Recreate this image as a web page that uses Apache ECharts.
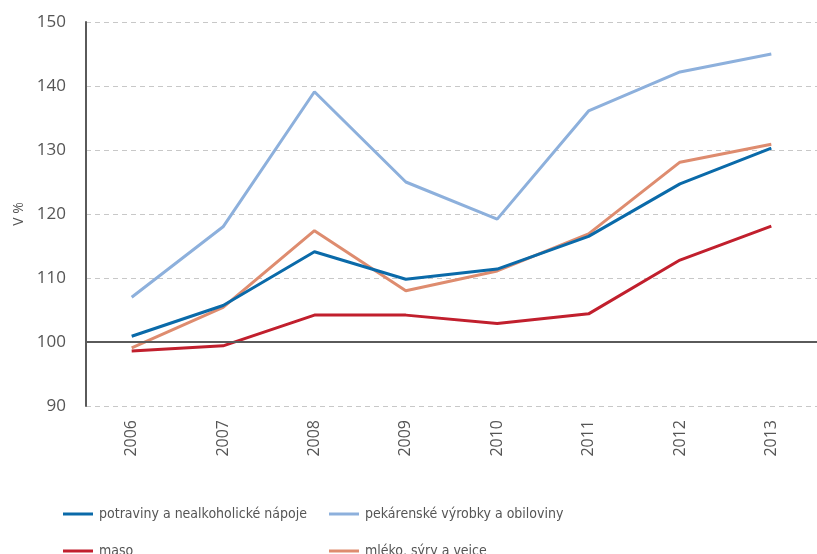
<!DOCTYPE html>
<html>
<head>
<meta charset="utf-8">
<script src="https://cdn.jsdelivr.net/npm/echarts@6/dist/echarts.min.js"></script>
<style>
  html, body { margin: 0; padding: 0; background: #fff; }
  #main { width: 817px; height: 554px; }
</style>
</head>
<body>
<div id="main"></div>
<script>
  // roky
  var years = ['2006', '2007', '2008', '2009', '2010', '2011', '2012', '2013'];
  var yTicks = [90, 100, 110, 120, 130, 140, 150];

  // hodnoty v %
  var potraviny = [100.9, 105.7, 114.1, 109.8, 111.4, 116.5, 124.7, 130.3];
  var pekarenske = [107.0, 118.0, 139.1, 125.0, 119.2, 136.1, 142.2, 145.0];
  var maso = [98.6, 99.4, 104.2, 104.2, 102.9, 104.4, 112.8, 118.1];
  var mleko = [99.1, 105.4, 117.4, 108.0, 111.1, 116.9, 128.1, 130.9];

  var names = ['potraviny a nealkoholické nápoje', 'pekárenské výrobky a obiloviny', 'maso', 'mléko, sýry a vejce'];
  var colors = ['#0a6aa9', '#8db0dc', '#c11f2d', '#de8c6f'];

  var font = '"Open Sans", sans-serif';
  var narrow = '"DejaVu Sans Condensed", sans-serif';
  var myChart = echarts.init(document.getElementById('main'));

  function legendAt(name, left, top) {
    return {
      data: [name],
      left: left,
      top: top,
      icon: 'rect',
      itemWidth: 30,
      itemHeight: 3,
      itemGap: 0,
      textStyle: { fontFamily: narrow, fontSize: 14, color: '#555', padding: [0, 0, 0, 1] },
      selectedMode: false
    };
  }

  myChart.setOption({
    animation: false,
    color: colors,
    legend: [
      legendAt(names[0], 58, 502),
      legendAt(names[1], 324, 502),
      legendAt(names[2], 58, 539),
      legendAt(names[3], 324, 539)
    ],
    grid: { left: 86, top: 22, right: -7, bottom: 148 },
    xAxis: {
      type: 'category',
      data: years,
      boundaryGap: true,
      axisLine: { show: false },
      axisTick: { show: false },
      axisLabel: { rotate: 90, margin: 14, fontFamily: font, fontSize: 16, color: '#555' }
    },
    yAxis: {
      type: 'value',
      min: yTicks[0],
      max: yTicks[yTicks.length - 1],
      interval: 10,
      name: 'V %',
      nameLocation: 'middle',
      nameRotate: 90,
      nameGap: 60,
      nameTextStyle: { fontFamily: font, fontSize: 14, color: '#555' },
      axisLine: { show: true, lineStyle: { color: '#5a5a5a', width: 2 } },
      axisTick: { show: false },
      axisLabel: { margin: 20, fontFamily: font, fontSize: 17, color: '#555' },
      splitLine: { show: true, lineStyle: { color: '#c8c8c8', type: [5, 4], width: 1 } }
    },
    series: [
      {
        name: names[0], type: 'line', data: potraviny, showSymbol: false,
        lineStyle: { width: 3 }, z: 4,
        markLine: {
          silent: true, symbol: 'none', label: { show: false },
          lineStyle: { color: '#5a5a5a', type: 'solid', width: 2 },
          data: [{ yAxis: 100 }]
        }
      },
      { name: names[1], type: 'line', data: pekarenske, showSymbol: false, lineStyle: { width: 3 }, z: 3 },
      { name: names[2], type: 'line', data: maso, showSymbol: false, lineStyle: { width: 3 }, z: 3 },
      { name: names[3], type: 'line', data: mleko, showSymbol: false, lineStyle: { width: 3 }, z: 3 }
    ]
  });
</script>
</body>
</html>
